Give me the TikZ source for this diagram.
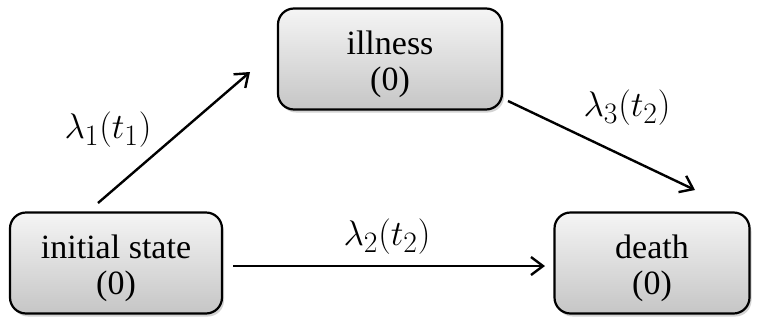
\documentclass[tikz,border=0pt]{standalone}
\usepackage{graphicx}
\usepackage{fontspec}
\setmainfont{Liberation Serif}
\usetikzlibrary{arrows.meta,shadows}
\newcommand{\biglab}[1]{\scalebox{1.43}{\fontsize{24.88}{30}\selectfont$#1$}}
\newcommand{\topup}{\rule{0pt}{35pt}}
\begin{document}
\begin{tikzpicture}[x=1pt,y=-1pt,
  state/.style={draw=black, line width=2.2pt, rounded corners=16pt,
    top color=gray!8, bottom color=gray!45, align=center,
    font=\fontsize{34}{36}\selectfont, inner sep=0pt,
    drop shadow={shadow xshift=2pt, shadow yshift=-3pt, opacity=0.35}},
  arr/.style={line width=2.4pt, -{Straight Barb[length=12pt,width=18pt,line width=2.4pt]}},
  lab/.style={inner sep=0pt}]
\useasboundingbox (0,0) rectangle (758,322);
\node[state, minimum width=224pt, minimum height=101pt] (ill) at (390,59) {\topup illness\\(0)};
\node[state, minimum width=212pt, minimum height=101pt] (ini) at (116,263) {\topup initial state\\(0)};
\node[state, minimum width=195pt, minimum height=101pt] (dea) at (652,263) {\topup death\\(0)};
\coordinate (a1) at (98,203);
\coordinate (a2) at (250,72);
\coordinate (b1) at (508,101);
\coordinate (b2) at (695,190);
\coordinate (c1) at (233,266);
\coordinate (c2) at (545,266);
\draw[arr] (a1) -- (a2);
\draw[arr] (b1) -- (b2);
\draw[arr] (c1) -- (c2);
\node[lab] (l1) at (108,130) {\biglab{\lambda_1(t_1)}};
\node[lab] (l2) at (387,237) {\biglab{\lambda_2(t_2)}};
\node[lab] (l3) at (627,108) {\biglab{\lambda_3(t_2)}};
\end{tikzpicture}
\end{document}
